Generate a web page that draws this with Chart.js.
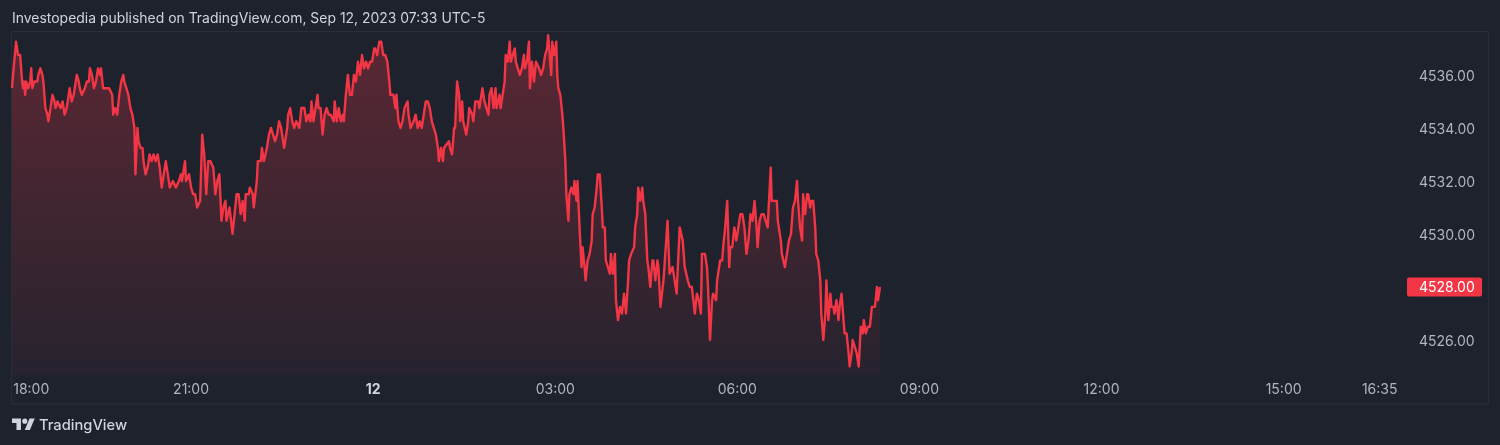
<!DOCTYPE html>
<html>
<head>
<meta charset="utf-8">
<script src="https://cdn.jsdelivr.net/npm/chart.js@4"></script>
<style>
  html, body { margin: 0; padding: 0; background: #1e222d; width: 1500px; height: 445px; overflow: hidden; }
  #wrap { position: relative; width: 1500px; height: 445px; }
  #chartBox { position: absolute; left: 0; top: 0; width: 1500px; height: 445px; }
  #title { position: absolute; left: 12px; top: 9px; font-family: Inter, "Noto Sans", sans-serif; font-size: 13.95px; line-height: 17px; color: #d1d4dc; white-space: nowrap; }
  #brand { position: absolute; left: 12px; top: 415px; height: 20px; display: flex; align-items: center; white-space: nowrap; }
  #brand span { font-family: Inter, "Noto Sans", sans-serif; font-size: 14.7px; font-weight: 500; color: #d1d4dc; margin-left: 4px; }
</style>
</head>
<body>
<div id="wrap">
  <div id="chartBox"><canvas id="c"></canvas></div>
  <div id="title">Investopedia published on TradingView.com, Sep 12, 2023 07:33 UTC-5</div>
  <div id="brand">
    <svg width="23" height="18" viewBox="0 0 36 28"><path fill="#d1d4dc" d="M14 22H7V11H0V4h14v18zM28 22h-8l7.5-18h8L28 22z"/><circle fill="#d1d4dc" cx="20" cy="8" r="4"/></svg>
    <span>TradingView</span>
  </div>
</div>
<script>
// Minutes elapsed since 18:00 (session start) for each sample
const sessionMinutes = [
  3,4,7,9,11,13,14,15,16,17,
  19,21,22,23,25,28,29,31,33,34,
  36,38,39,41,43,45,46,48,51,53,
  55,57,58,60,62,64,67,69,70,72,
  75,77,79,80,82,84,86,88,90,91,
  93,96,99,102,103,105,107,109,111,113,
  114,116,118,120,122,124,125,127,128,130,
  132,133,135,137,139,141,143,145,147,149,
  151,153,155,157,159,162,165,168,170,171,
  174,175,178,180,182,184,186,189,190,191,
  193,195,197,199,202,204,206,208,210,212,
  214,215,218,221,223,225,227,229,231,233,
  234,237,238,241,242,245,246,249,250,252,
  255,257,259,261,263,265,267,269,271,272,
  275,276,278,280,282,284,287,289,292,294,
  296,298,299,301,302,305,306,308,310,312,
  314,316,318,321,322,324,326,328,330,331,
  333,335,337,339,341,343,345,347,349,351,
  353,355,357,359,361,362,364,366,368,370,
  372,374,376,377,380,382,383,385,387,389,
  391,394,395,397,400,402,404,406,408,410,
  412,414,416,418,420,422,424,425,427,429,
  430,435,436,438,440,441,443,445,446,448,
  449,452,454,455,458,459,461,464,465,468,
  470,472,474,475,477,479,481,482,485,486,
  488,490,491,493,495,496,498,500,501,503,
  505,507,509,510,512,514,515,517,519,521,
  524,526,528,530,532,533,534,536,537,539,
  541,542,543,545,547,548,550,551,553,554,
  556,558,559,561,562,564,566,567,569,570,
  572,574,576,577,579,581,582,584,586,587,
  589,590,592,594,595,597,599,600,602,604,
  606,608,610,612,613,615,618,619,621,622,
  624,626,627,629,631,632,634,636,637,639,
  641,642,644,647,651,653,656,658,660,663,
  666,668,671,673,675,678,680,682,684,685,
  688,690,691,693,695,696,699,700,703,705,
  706,708,710,712,713,715,717,719,721,723,
  725,727,729,731,733,735,737,739,740,742,
  744,746,748,750,753,754,757,759,760,763,
  764,767,769,771,773,775,777,779,780,782,
  784,785,787,789,790,792,793,795,797,798,
  800,802,803,805,807,808,810,812,813,815,
  816,818,820,821,823,825,826,828,830,831,
  833,834,836,838,839,840,842,844,845,847,
  849,851,853,855,856,858,859,861
];

// Price at each sample
const prices = [
  4535.50,4536.00,4537.25,4536.75,4536.75,4535.75,4535.50,4535.75,4535.25,4535.75,
  4535.50,4535.75,4536.25,4535.50,4535.75,4535.75,4536.00,4536.25,4536.00,4535.75,
  4534.75,4534.50,4534.25,4534.75,4535.25,4535.00,4534.75,4535.00,4534.75,4535.00,
  4534.50,4534.75,4535.00,4535.50,4535.00,4535.25,4536.00,4535.75,4535.50,4535.25,
  4535.50,4535.75,4535.75,4536.25,4536.00,4535.50,4535.75,4536.25,4536.00,4536.25,
  4535.50,4535.50,4535.50,4535.25,4534.50,4534.75,4534.50,4535.25,4535.75,4536.00,
  4535.75,4535.50,4535.25,4534.75,4534.50,4534.00,4532.25,4534.00,4533.50,4533.25,
  4533.25,4532.75,4532.25,4532.50,4533.00,4532.75,4533.00,4532.75,4533.00,4532.50,
  4531.75,4532.25,4532.75,4532.25,4531.75,4532.00,4531.75,4532.00,4532.25,4532.00,
  4532.75,4532.00,4532.25,4531.75,4531.50,4531.50,4531.00,4531.25,4532.50,4533.75,
  4533.00,4531.50,4532.75,4532.75,4532.50,4531.50,4532.00,4532.25,4530.50,4531.00,
  4531.25,4530.50,4531.00,4530.00,4530.75,4531.50,4531.50,4530.75,4531.25,4530.50,
  4531.50,4531.50,4531.75,4531.50,4531.00,4532.00,4532.75,4532.75,4533.25,4532.75,
  4533.25,4533.75,4534.00,4533.75,4533.50,4533.75,4534.25,4534.00,4533.50,4533.25,
  4534.00,4534.50,4534.75,4534.25,4534.00,4534.25,4534.00,4534.75,4534.75,4534.25,
  4534.50,4534.25,4535.00,4534.25,4534.50,4535.25,4534.75,4534.75,4533.75,4534.50,
  4534.75,4534.50,4534.50,4534.25,4535.00,4534.25,4534.75,4534.25,4534.50,4534.25,
  4535.25,4536.00,4535.25,4535.25,4536.00,4535.75,4536.50,4536.00,4536.75,4536.25,
  4536.50,4536.25,4536.50,4536.50,4537.00,4537.00,4536.75,4537.25,4537.25,4536.75,
  4536.75,4536.50,4535.75,4535.25,4535.25,4534.75,4535.25,4534.25,4534.00,4534.25,
  4534.75,4535.00,4534.50,4534.00,4534.25,4534.50,4534.00,4534.25,4534.00,4534.50,
  4535.00,4535.00,4534.75,4534.25,4534.00,4533.75,4533.25,4532.75,4533.25,4532.75,
  4533.25,4533.50,4533.25,4533.00,4534.00,4534.00,4535.75,4535.25,4534.25,4535.00,
  4534.25,4533.75,4534.25,4534.75,4534.50,4534.25,4535.00,4535.00,4534.75,4535.50,
  4535.00,4534.75,4534.50,4535.25,4535.50,4534.75,4535.50,4534.75,4535.25,4534.75,
  4535.25,4535.75,4536.75,4536.50,4537.25,4536.50,4536.75,4537.00,4536.50,4536.25,
  4536.00,4536.25,4536.75,4536.25,4536.50,4537.25,4535.50,4536.50,4535.75,4536.50,
  4536.25,4536.00,4536.25,4536.75,4537.00,4537.50,4537.00,4536.00,4537.25,4536.75,
  4537.25,4536.00,4535.50,4535.25,4534.50,4534.00,4532.75,4531.50,4530.50,4531.50,
  4531.75,4531.50,4532.00,4531.25,4532.00,4530.25,4528.75,4529.50,4528.75,4528.25,
  4529.00,4529.25,4529.75,4530.75,4531.00,4531.75,4532.25,4532.25,4531.00,4530.25,
  4530.25,4529.00,4528.75,4528.50,4529.25,4528.50,4529.25,4527.50,4526.75,4527.25,
  4527.00,4527.75,4527.00,4528.25,4529.00,4529.25,4529.50,4530.25,4530.75,4531.75,
  4531.25,4531.75,4531.25,4530.75,4529.00,4528.75,4528.00,4529.00,4529.00,4528.25,
  4529.00,4528.75,4527.25,4528.25,4530.50,4528.50,4528.75,4528.25,4527.75,4530.25,
  4529.75,4528.75,4528.25,4528.00,4528.00,4527.00,4527.75,4527.50,4527.00,4529.25,
  4529.25,4528.75,4528.00,4526.00,4527.50,4527.75,4527.50,4528.25,4529.00,4529.00,
  4529.50,4530.25,4531.25,4528.75,4529.50,4529.50,4530.25,4529.75,4530.25,4530.75,
  4530.75,4530.25,4529.25,4529.75,4530.75,4530.50,4531.25,4530.25,4529.50,4530.50,
  4530.75,4530.75,4530.50,4530.25,4532.50,4531.25,4531.25,4531.25,4530.50,4529.75,
  4529.25,4528.75,4529.25,4529.75,4530.00,4531.00,4531.25,4532.00,4531.25,4530.25,
  4529.75,4531.50,4530.75,4531.50,4531.50,4531.00,4531.25,4531.25,4530.25,4529.25,
  4529.00,4528.25,4527.00,4526.00,4527.00,4528.25,4526.75,4527.75,4527.25,4527.25,
  4527.00,4527.50,4526.75,4527.25,4527.75,4526.75,4526.25,4526.25,4525.50,4525.00,
  4525.50,4526.00,4525.75,4525.50,4525.25,4525.00,4526.50,4526.25,4526.75,4526.25,
  4526.50,4526.50,4527.25,4527.25,4527.25,4528.00,4527.50,4528.00
];

// Time-axis tick positions (minutes since 18:00) and their labels
const timeTickMinutes = [22, 180, 360, 540, 720, 900, 1080, 1260, 1355];
const timeTickLabels  = ['18:00', '21:00', '12', '03:00', '06:00', '09:00', '12:00', '15:00', '16:35'];

// Price-axis ticks
const priceTicks = [4526, 4528, 4530, 4532, 4534, 4536];

const RED = '#f23645';
const BG = '#1e222d';
const BORDER = '#2a2e39';
const TEXT = '#b2b5be';
const FONT = 'Inter, "Noto Sans", sans-serif';

const points = sessionMinutes.map((t, i) => ({ x: t, y: prices[i] }));

const frame = {
  id: 'frame',
  beforeDraw(chart) {
    const c = chart.ctx, a = chart.chartArea;
    const ys = chart.scales.y, xs = chart.scales.x;
    c.save();
    c.fillStyle = BG;
    c.fillRect(0, 0, chart.width, chart.height);
    c.strokeStyle = BORDER;
    c.lineWidth = 1;
    c.strokeRect(a.left + 0.5, a.top - 0.5, ys.right - a.left, xs.bottom - a.top + 0.5);
    c.restore();
  },
  afterDraw(chart) {
    const c = chart.ctx, ys = chart.scales.y;
    const last = prices[prices.length - 1];
    const py = ys.getPixelForValue(last);
    c.save();
    c.fillStyle = RED;
    c.beginPath();
    if (c.roundRect) c.roundRect(ys.left + 2, py - 9.5, 75, 19, 2); else c.rect(ys.left + 2, py - 9.5, 75, 19);
    c.fill();
    c.fillStyle = '#ffffff';
    c.font = '14px ' + FONT;
    c.textBaseline = 'middle';
    c.textAlign = 'left';
    c.fillText(last.toFixed(2), ys.left + 14, py + 0.5);
    c.restore();
  }
};

new Chart(document.getElementById('c'), {
  type: 'line',
  data: {
    datasets: [{
      data: points,
      borderColor: RED,
      borderWidth: 2.4,
      borderJoinStyle: 'round',
      pointRadius: 0,
      tension: 0,
      fill: 'start',
      backgroundColor: (ctx) => {
        const area = ctx.chart.chartArea;
        if (!area) return 'rgba(242,54,69,0.15)';
        const g = ctx.chart.ctx.createLinearGradient(0, area.top, 0, area.bottom);
        g.addColorStop(0, 'rgba(242,54,69,0.29)');
        g.addColorStop(1, 'rgba(242,54,69,0.04)');
        return g;
      }
    }]
  },
  options: {
    responsive: true,
    maintainAspectRatio: false,
    animation: false,
    layout: { padding: { left: 11, top: 32, right: 12, bottom: 41 } },
    plugins: { legend: { display: false }, tooltip: { enabled: false } },
    scales: {
      x: {
        type: 'linear',
        min: 2,
        max: 1380,
        grid: { display: false, drawTicks: false },
        border: { display: false },
        afterFit: (s) => { s.height = 29; },
        afterBuildTicks: (s) => { s.ticks = timeTickMinutes.map(v => ({ value: v })); },
        ticks: {
          autoSkip: false,
          maxRotation: 0,
          padding: 6,
          callback: (v, i) => timeTickLabels[i],
          color: (ctx) => timeTickLabels[ctx.index] === '12' ? '#d1d4dc' : TEXT,
          font: (ctx) => timeTickLabels[ctx.index] === '12'
            ? { family: FONT, size: 14, weight: 'bold' }
            : { family: FONT, size: 14 }
        }
      },
      y: {
        position: 'right',
        min: 4524.68,
        max: 4537.62,
        grid: { display: false, drawTicks: false },
        border: { display: false },
        afterFit: (s) => { s.width = 83; },
        afterBuildTicks: (s) => { s.ticks = priceTicks.map(v => ({ value: v })); },
        ticks: {
          padding: 14,
          labelOffset: 2,
          color: TEXT,
          font: { family: FONT, size: 14 },
          callback: (v) => Number(v).toFixed(2)
        }
      }
    }
  },
  plugins: [frame]
});
</script>
</body>
</html>
